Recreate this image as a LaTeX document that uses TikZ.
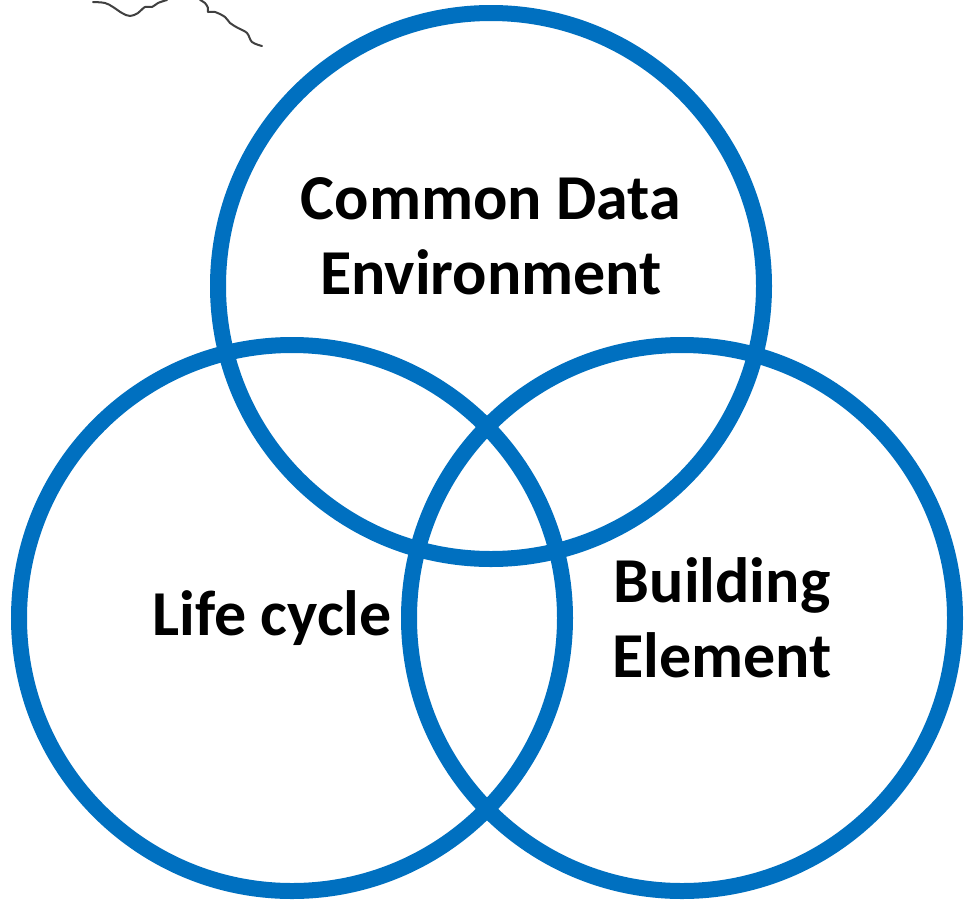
\documentclass[tikz,border=0pt]{standalone}
\usepackage{fontspec}
\setmainfont{Carlito}
\definecolor{vennblue}{HTML}{0070C0}
\definecolor{mapgrey}{HTML}{404040}
\begin{document}
\begin{tikzpicture}[x=1pt,y=-1pt,
  ring/.style={draw=vennblue,line width=16pt},
  label/.style={font=\fontsize{64}{75}\selectfont\bfseries,align=center,inner sep=0pt},
  mapline/.style={draw=mapgrey,line width=2pt,line cap=round,line join=round}]
\useasboundingbox[fill=white] (0,0) rectangle (964,900);
% map fragment
\draw[mapline] plot[smooth,tension=0.6] coordinates {(93,2) (105,3) (113,7) (122,13) (130,16) (138,13) (145,7) (152,7) (158,3) (167,0)};
\draw[mapline] plot[smooth,tension=0.6] coordinates {(200,0) (205,3) (208,8) (208,12) (215,12) (225,17) (230,23) (238,28) (247,33) (252,42) (262,46)};
% circles
\node[ring,circle,minimum size=546pt,inner sep=0pt] (cde) at (491,286) {};
\node[ring,circle,minimum size=546pt,inner sep=0pt] (life) at (292,618) {};
\node[ring,circle,minimum size=546pt,inner sep=0pt] (build) at (682,618) {};
% labels
\node[label] (tcde) at (491,236) {Common Data\\Environment};
\node[label] (tlife) at (272,618) {Life cycle};
\node[label] (tbuild) at (722,618) {Building\\Element};
\end{tikzpicture}
\end{document}
